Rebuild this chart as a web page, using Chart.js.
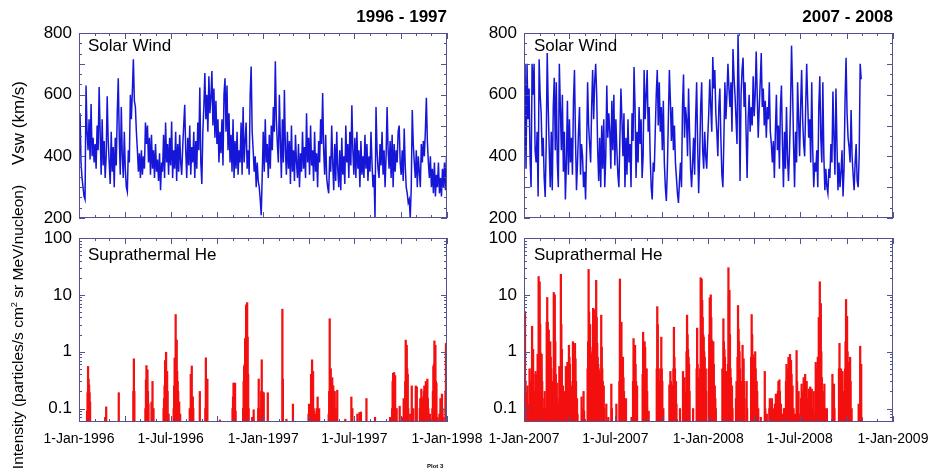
<!DOCTYPE html>
<html>
<head>
<meta charset="utf-8">
<script src="https://cdn.jsdelivr.net/npm/chart.js@4.4.1/dist/chart.umd.min.js"></script>
<style>
  html, body { margin: 0; padding: 0; background: #fff; }
  #wrap { position: relative; width: 930px; height: 474px; overflow: hidden;
          font-family: "Liberation Sans", Arial, Helvetica, sans-serif; color: #000; }
  canvas.panel { position: absolute; left: 0; top: 0; }
  .t { position: absolute; white-space: nowrap; line-height: 1; }
  .rot { transform: translate(-50%, -50%) rotate(-90deg); }
  sup { font-size: 60%; vertical-align: 0.7em; line-height: 0; }
</style>
</head>
<body>
<div id="wrap">
  <canvas id="swEarly" class="panel" width="1000" height="474"></canvas>
  <canvas id="swLate" class="panel" width="1000" height="474"></canvas>
  <canvas id="heEarly" class="panel" width="1000" height="474"></canvas>
  <canvas id="heLate" class="panel" width="1000" height="474"></canvas>

  <div class="t" style="right:483px; top:8px; font-weight:bold; font-size:17px;">1996 - 1997</div>
  <div class="t" style="right:37px; top:8px; font-weight:bold; font-size:17px;">2007 - 2008</div>
  <div class="t" style="left:88px; top:37px; font-size:17px;">Solar Wind</div>
  <div class="t" style="left:534px; top:37px; font-size:17px;">Solar Wind</div>
  <div class="t" style="left:88px; top:246px; font-size:17px;">Suprathermal He</div>
  <div class="t" style="left:534px; top:246px; font-size:17px;">Suprathermal He</div>
  <div class="t rot" style="left:18px; top:123px; font-size:17px;">Vsw (km/s)</div>
  <div class="t rot" style="left:18px; top:327px; font-size:15.5px;">Intensity (particles/s cm<sup>2</sup> sr MeV/nucleon)</div>
  <div class="t" style="left:427px; top:463px; font-size:6px; font-weight:bold;">Plot 3</div>
</div>

<script>
// ---- Solar wind speed (km/s), one sample every 2 days from 1 Jan of the first year ----
const SW_STEP_DAYS = 2;

const swSpeed1996 = [
  400, 540, 380, 330, 300, 270, 260, 630, 480, 420,
  520, 390, 570, 400, 460, 380, 440, 360, 500, 420,
  625, 480, 340, 520, 370, 450, 330, 400, 595, 450,
  380, 310, 480, 350, 430, 300, 460, 370, 540, 653,
  460, 340, 560, 400, 330, 480, 360, 300, 285, 420,
  380, 600, 520, 610, 715, 580, 560, 480, 420, 350,
  410, 330, 420, 340, 400, 360, 510, 440, 500, 380,
  460, 340, 470, 360, 420, 330, 440, 350, 390, 320,
  410, 290, 380, 350, 470, 330, 510, 380, 440, 340,
  460, 370, 513, 330, 420, 360, 480, 320, 440, 350,
  470, 380, 340, 430, 500, 567, 420, 330, 460, 370,
  500, 340, 430, 380, 480, 330, 450, 360, 510, 420,
  623, 380, 310, 480, 560, 670, 520, 600, 480, 660,
  540, 590, 677, 500, 620, 460, 580, 440, 520, 380,
  480, 410, 520, 370, 600, 653, 480, 630, 420, 540,
  380, 470, 350, 520, 330, 450, 360, 480, 340, 420,
  380, 510, 340, 560, 380, 450, 510, 360, 420, 340,
  600, 691, 480, 420, 350, 400, 300, 380, 320, 300,
  260, 209, 340, 480, 350, 520, 380, 440, 330, 470,
  360, 500, 420, 560, 480, 708, 520, 440, 380, 600,
  450, 330, 520, 380, 615, 420, 340, 480, 360, 450,
  310, 500, 350, 420, 320, 470, 380, 330, 440, 300,
  410, 350, 480, 360, 430, 330, 540, 380, 460, 340,
  500, 370, 420, 320, 480, 350, 410, 300, 450, 380,
  520, 440, 605, 420, 340, 470, 330, 300, 280, 400,
  350, 500, 380, 290, 440, 320, 480, 360, 300, 420,
  290, 460, 340, 400, 310, 500, 380, 440, 330, 480,
  370, 566, 420, 340, 460, 330, 480, 360, 420, 300,
  450, 340, 400, 330, 470, 360, 440, 320, 400, 350,
  480, 380, 300, 340, 200, 560, 420, 360, 330, 440,
  370, 480, 340, 420, 300, 400, 560, 420, 360, 450,
  330, 470, 300, 440, 350, 420, 380, 480, 500, 380,
  340, 420, 320, 490, 370, 300, 280, 250, 260, 200,
  300, 550, 440, 380, 330, 420, 300, 400, 350, 300,
  440, 380, 450, 400, 480, 590, 450, 380, 330, 400,
  300, 360, 280, 380, 270, 340, 300, 380, 280, 330,
  270, 360, 300, 380, 290, 400
];

const swSpeed2007 = [
  330, 700, 360, 700, 520, 620, 400, 300, 700, 600,
  700, 420, 380, 480, 270, 715, 600, 540, 400, 460,
  330, 268, 440, 735, 560, 420, 300, 480, 290, 560,
  655, 420, 640, 380, 300, 700, 560, 420, 600, 350,
  480, 260, 380, 580, 340, 520, 380, 460, 340, 580,
  680, 460, 290, 380, 480, 560, 340, 440, 400, 300,
  350, 260, 420, 640, 500, 440, 380, 560, 680, 520,
  640, 700, 600, 420, 320, 460, 300, 500, 360, 520,
  300, 400, 630, 460, 540, 480, 360, 580, 420, 600,
  370, 520, 420, 340, 300, 460, 620, 520, 400, 540,
  300, 460, 340, 520, 380, 440, 300, 540, 450, 690,
  560, 330, 480, 380, 560, 440, 520, 330, 400, 680,
  520, 600, 680, 480, 560, 400, 300, 260, 380, 350,
  480, 600, 680, 500, 640, 480, 560, 420, 580, 380,
  300, 255, 360, 520, 680, 580, 450, 560, 420, 500,
  380, 330, 280, 249, 320, 380, 300, 560, 665, 460,
  560, 520, 400, 620, 480, 360, 300, 380, 460, 340,
  520, 640, 440, 280, 400, 560, 640, 420, 360, 480,
  400, 360, 460, 540, 650, 560, 480, 722, 620, 680,
  540, 480, 400, 560, 620, 460, 340, 300, 460, 640,
  520, 600, 700, 620, 560, 640, 480, 748, 660, 600,
  520, 440, 795, 620, 320, 600, 680, 720, 560, 640,
  480, 330, 520, 600, 480, 560, 500, 660, 530, 600,
  740, 600, 460, 560, 640, 735, 560, 620, 500, 580,
  460, 560, 520, 640, 480, 440, 380, 450, 330, 480,
  600, 420, 500, 360, 560, 630, 440, 300, 480, 360,
  560, 400, 320, 420, 560, 759, 620, 440, 300, 480,
  380, 640, 520, 400, 560, 680, 520, 440, 400, 560,
  700, 580, 460, 520, 380, 640, 420, 300, 380, 350,
  420, 300, 560, 660, 460, 380, 640, 400, 290, 360,
  300, 280, 360, 330, 440, 380, 610, 460, 340, 620,
  440, 290, 380, 300, 350, 420, 270, 360, 580, 720,
  540, 460, 430, 380, 550, 400, 340, 290, 380, 440,
  320, 300, 400, 700, 650
];

// ---- Suprathermal He daily intensity: [day since 1 Jan of first year, particles/(s cm2 sr MeV/nucleon)] ----
const heFlux1996 = [
  [16,0.09],[17,0.19],[18,0.55],[19,0.33],[20,0.26],[21,0.19],[22,0.13],
  [52,0.07],[54,0.107],[79,0.19],
  [108,0.2],[109,0.75],[110,0.2],
  [132,0.1],[133,0.32],[134,0.57],[135,0.3],[136,0.48],[137,0.2],[138,0.12],
  [144,0.13],[146,0.3],[148,0.1],
  [168,0.1],[169,0.15],[170,0.25],[171,0.7],[172,0.5],[173,0.98],[174,0.44],[175,0.45],[176,0.2],[178,0.08],
  [188,0.1],[189,0.25],[190,0.77],[191,0.77],[192,4.5],[193,1.6],[194,1.6],[195,0.45],[196,0.3],[197,0.2],[198,0.13],[199,0.13],[201,0.08],
  [220,0.1],[222,0.4],[223,0.16],[224,0.56],[225,0.16],[226,0.16],[227,0.1],
  [240,0.2],
  [251,0.1],[252,0.78],[253,0.33],[255,0.33],
  [280,0.063],
  [305,0.1],[306,0.16],[307,0.28],[308,0.28],[310,0.28],[311,0.09],
  [326,0.1],[327,0.3],[328,0.55],[329,0.6],[330,1.7],[331,1.7],[332,6.5],[333,6.8],[334,7.3],[335,1.8],[336,0.4],[337,0.1],
  [344,0.07],[347,0.095],
  [356,0.1],[357,0.33],[358,0.1],[362,0.2],[363,0.72],[364,0.2],[365,0.19],[367,0.19],[375,0.19],
  [404,5.6],[405,0.33],[412,0.065],[425,0.12],
  [456,0.08],[457,0.12],[460,0.1],[461,0.4],[462,0.3],[463,0.72],[464,0.1],[465,0.45],[466,0.1],[467,0.09],[469,0.08],[472,0.1],[474,0.16],[477,0.1],
  [496,0.08],[497,0.2],[498,3.8],[499,0.5],[500,0.5],[501,0.3],[502,0.2],[503,0.35],[504,0.25],[505,0.25],[506,0.2],[508,0.2],[510,0.1],[513,0.21],
  [529,0.065],[541,0.16],[543,0.1],
  [553,0.08],[557,0.085],[560,0.087],[571,0.15],[588,0.07],
  [618,0.07],[621,0.07],[622,0.1],[623,0.3],[624,0.42],[625,0.2],[626,0.43],[627,0.3],[628,0.38],[629,0.1],[631,0.1],
  [637,0.11],[643,0.07],[645,0.15],[647,0.1],[648,0.3],[649,1.6],[650,1.1],[651,1.3],[652,0.5],[653,0.4],[654,0.1],
  [658,0.08],[661,0.25],[664,0.1],[669,0.25],[671,0.24],
  [677,0.1],[678,0.15],[680,0.22],[681,0.12],[682,0.15],[684,0.16],[685,0.2],[686,0.25],[687,0.12],[688,0.2],[689,0.3],[690,0.15],[692,0.33],[693,0.15],[694,0.1],[697,0.08],
  [702,0.1],[703,0.2],[704,0.55],[705,0.6],[706,1.55],[707,0.5],[708,1.3],[709,0.3],[710,0.28],[712,0.07],
  [716,0.08],[718,0.15],[719,0.1],[721,0.18],[722,0.1],[724,0.07],[728,0.2],[729,1.4],[730,0.5]
];

const heFlux2007 = [
  [1,0.12],[2,5.1],[3,0.3],[4,0.2],[5,0.09],[7,0.25],[9,0.12],[11,0.5],[13,0.3],[15,0.5],[16,2.8],[18,1.1],[19,0.4],[21,0.2],
  [23,0.45],[24,0.3],[26,0.4],[27,0.9],[28,0.6],[29,21],[30,9],[31,17],[32,3],[33,0.95],[34,0.5],[35,0.9],[36,0.3],[37,0.15],[39,0.1],
  [41,0.2],[43,0.1],[45,3.3],[46,9],[47,3.3],[48,2.4],[49,2.4],[50,1.5],[52,1.5],[53,0.8],[54,0.5],[56,0.3],[57,0.15],
  [59,11],[60,3],[61,10],[62,1.5],[63,0.4],[65,0.28],[66,0.15],[68,0.12],
  [70,0.55],[71,0.3],[73,23],[74,3],[75,1.1],[77,0.25],[79,0.2],[80,0.09],
  [83,0.55],[84,0.2],[86,0.65],[88,0.3],[89,1.3],[90,0.8],[91,0.6],[92,0.3],[94,0.25],[95,0.1],
  [97,1.5],[98,0.5],[99,0.8],[101,1.4],[102,0.75],[103,0.3],[105,0.15],[106,0.08],
  [114,0.16],[116,0.1],[118,0.2],[119,0.09],
  [126,0.5],[127,1.5],[128,28],[129,5],[130,3],[131,3],[132,1],[134,0.5],[135,0.9],[136,1.2],[137,5.8],[138,2],[139,1.5],[140,5.5],
  [141,1.2],[142,0.6],[143,18],[144,4],[145,1.4],[146,0.8],[147,0.6],[148,0.5],[149,0.45],[150,0.4],[151,0.3],
  [153,4.4],[154,1.2],[155,0.5],[156,0.3],[158,0.25],[159,0.1],[163,0.12],[167,0.07],[173,0.27],[174,0.1],[183,0.12],
  [189,0.3],[190,19],[191,3.3],[193,3.3],[194,0.8],[196,0.8],[197,0.35],[198,0.2],[202,0.15],[213,0.07],
  [216,0.3],[217,1.7],[218,0.8],[220,1.3],[221,0.6],[222,0.3],[224,0.25],
  [235,0.4],[236,2.2],[237,1.2],[239,1.5],[240,1.2],[241,0.5],[243,0.5],[244,0.2],[247,0.09],
  [263,0.5],[264,6.2],[265,3],[266,0.5],[267,0.3],[268,0.25],[270,0.5],[272,1.8],[273,0.5],[274,0.3],[276,0.1],
  [288,0.26],[290,0.45],[291,0.3],[292,0.25],[294,0.26],[296,0.5],[297,2.7],[298,0.8],[299,0.5],[301,0.3],[302,0.12],[309,0.1],
  [315,0.45],[316,0.3],[318,0.35],[320,0.2],[322,1],[323,4.4],[324,2],[325,1.1],[326,0.8],[327,0.6],[328,0.2],[335,0.1],
  [342,0.5],[343,2.6],[344,0.6],[345,0.35],[346,0.2],[348,0.1],[349,0.5],[350,20],[351,6],[352,19],[353,8],[354,4],[355,2],
  [356,1.8],[357,1],[358,0.8],[360,0.5],[361,0.2],
  [366,0.5],[367,2],[368,8.9],[369,3],[370,10],[371,4],[372,1.6],[373,0.8],[375,1.5],[376,0.6],[378,0.25],[379,0.15],[380,0.1],
  [393,0.5],[395,3.8],[396,1.5],[397,1.1],[398,0.8],[400,0.45],[401,0.1],
  [404,0.6],[405,30],[406,10],[407,12],[408,2],[409,0.5],[410,0.35],[412,0.25],[413,0.1],
  [420,0.15],[421,0.3],[423,0.8],[424,6.5],[425,2.5],[426,1.5],[427,1],[428,0.5],[430,0.3],[431,0.2],
  [433,1.3],[434,0.6],[435,0.75],[436,0.3],[437,0.15],[441,0.3],[442,0.1],
  [450,0.8],[451,4.5],[452,2],[453,0.9],[454,0.7],[456,0.8],[457,0.5],[458,1],[459,0.5],[461,0.3],[462,0.2],[464,0.1],
  [469,0.07],[477,0.45],[478,0.1],[481,0.08],
  [486,0.1],[487,0.15],[489,0.1],[491,0.15],[493,0.09],[495,0.1],[497,0.12],[499,0.18],[501,0.1],[503,0.2],[504,0.3],[506,0.32],[507,0.2],[509,0.12],[512,0.08],
  [515,0.1],[517,0.1],[519,0.3],[520,0.6],[521,0.4],[522,0.5],[524,0.8],[525,0.5],[526,0.6],[527,0.9],[528,0.7],[529,0.7],[530,0.4],[532,0.25],[534,0.1],[537,0.08],
  [540,1.05],[541,0.3],[544,0.2],[546,0.08],
  [549,0.15],[550,0.27],[552,0.2],[554,0.35],[555,0.3],[557,0.4],[558,0.3],[560,0.3],[562,0.15],[564,0.22],[565,0.1],[567,0.24],[568,0.12],[570,0.22],[572,0.1],[574,0.2],[575,0.08],
  [578,0.65],[580,0.5],[582,0.8],[583,0.7],[584,4],[585,2],[586,17],[587,7],[588,7],[589,1],[590,0.35],[592,0.2],[595,0.27],[596,0.1],[600,0.1],
  [611,0.4],[612,0.2],[614,0.27],[615,0.1],
  [624,0.5],[625,1.4],[626,0.5],[628,0.5],[630,0.3],[631,0.45],[632,0.2],
  [636,0.5],[637,1.5],[638,8.3],[639,2],[640,4.2],[641,1],[642,0.6],[643,0.4],[644,0.65],[645,0.5],[646,0.8],[647,0.3],[649,0.1],
  [663,0.12],[664,0.1],[666,1.25],[667,0.6],[668,0.6],[669,0.07]
];

// ---- Axis labelling ----
const SPAN_DAYS = 731;
const dateTickDays1996 = [0, 182, 366, 547, 731];
const dateTickLabels1996 = ['1-Jan-1996', '1-Jul-1996', '1-Jan-1997', '1-Jul-1997', '1-Jan-1998'];
const dateTickDays2007 = [0, 181, 365, 546, 731];
const dateTickLabels2007 = ['1-Jan-2007', '1-Jul-2007', '1-Jan-2008', '1-Jul-2008', '1-Jan-2009'];
const speedTicks = [200, 400, 600, 800];
const speedTickLabels = ['200', '400', '600', '800'];
const fluxTicks = [0.1, 1, 10, 100];
const fluxTickLabels = ['0.1', '1', '10', '100'];

const FONT = '"Liberation Sans", Arial, Helvetica, sans-serif';
const FRAME_COLOR = '#52528e';
const WIND_COLOR = '#1616d8';
const HE_COLOR = '#f41010';
const CANVAS_W = 1000, CANVAS_H = 474;

// month starts (minor) and quarter starts (major) for the frame ticks
function monthTicks(year) {
  const t0 = Date.UTC(year, 0, 1), out = [];
  for (let m = 0; m <= 24; m++) {
    out.push({ v: (Date.UTC(year, m, 1) - t0) / 864e5, major: m % 3 === 0 });
  }
  return out;
}
function speedFrameTicks() {
  const out = [];
  for (let k = 0; k <= 18; k++) out.push({ v: 200 + k * 100 / 3, major: k % 3 === 0 });
  return out;
}
function fluxFrameTicks() {
  const out = [];
  for (let e = -2; e <= 2; e++) {
    for (let m = 1; m <= 9; m++) {
      const v = m * Math.pow(10, e);
      if (v >= 0.058 && v <= 100.0001) out.push({ v, major: m === 1 });
    }
  }
  return out;
}

// box with inward ticks on all four sides
const framePlugin = {
  id: 'frame',
  afterDatasetsDraw(chart, args, opts) {
    const { ctx, chartArea: a } = chart;
    const xs = chart.scales.x, ys = chart.scales.y;
    ctx.save();
    ctx.strokeStyle = FRAME_COLOR;
    ctx.lineWidth = 1;
    ctx.beginPath();
    for (const t of opts.xTicks) {
      const px = Math.round(xs.getPixelForValue(t.v)) + 0.5;
      const len = t.major ? 6 : 3;
      ctx.moveTo(px, a.top); ctx.lineTo(px, a.top + len);
      ctx.moveTo(px, a.bottom); ctx.lineTo(px, a.bottom - len);
    }
    for (const t of opts.yTicks) {
      const py = Math.round(ys.getPixelForValue(t.v)) + 0.5;
      const len = t.major ? 6 : 3;
      ctx.moveTo(a.left, py); ctx.lineTo(a.left + len, py);
      ctx.moveTo(a.right, py); ctx.lineTo(a.right - len, py);
    }
    ctx.stroke();
    ctx.strokeRect(Math.round(a.left) + 0.5, Math.round(a.top) + 0.5,
                   Math.round(a.right - a.left) - 1, Math.round(a.bottom - a.top) - 1);
    ctx.restore();
  }
};

const Y_AXIS_W = 70;
const X_AXIS_H = 30;

function makePanel(id, rect, p) {
  const xh = p.dateLabels ? X_AXIS_H : 0;
  return new Chart(document.getElementById(id), {
    type: p.type,
    data: { datasets: [p.dataset] },
    options: {
      responsive: false,
      animation: false,
      devicePixelRatio: 1,
      events: [],
      layout: { padding: { left: rect.l - Y_AXIS_W, right: CANVAS_W - rect.r, top: rect.t, bottom: CANVAS_H - rect.b - xh } },
      plugins: {
        legend: { display: false },
        tooltip: { enabled: false },
        frame: { xTicks: p.xFrame, yTicks: p.yFrame }
      },
      scales: {
        x: {
          type: 'linear', min: 0, max: SPAN_DAYS, offset: false,
          grid: { display: false, drawTicks: false, tickLength: 0 }, border: { display: false },
          afterFit(s) { s.height = xh; },
          afterBuildTicks(s) { s.ticks = p.dateDays.map(v => ({ value: v })); },
          ticks: {
            display: !!p.dateLabels, autoSkip: false, maxRotation: 0, padding: 9,
            color: '#000', font: { family: FONT, size: 14 },
            callback: (v, i) => p.dateLabels ? p.dateLabels[i] : ''
          }
        },
        y: {
          type: p.yType, min: p.yMin, max: p.yMax,
          grid: { display: false, drawTicks: false, tickLength: 0 }, border: { display: false },
          afterFit(s) { s.width = Y_AXIS_W; },
          afterBuildTicks(s) { s.ticks = p.yTickVals.map(v => ({ value: v })); },
          ticks: {
            autoSkip: false, padding: 7, color: '#000', font: { family: FONT, size: 17 },
            callback: (v, i) => p.yTickLabels[i]
          }
        }
      }
    },
    plugins: [framePlugin]
  });
}

function windDataset(values) {
  return {
    data: values.map((v, i) => ({ x: i * SW_STEP_DAYS, y: v })),
    borderColor: WIND_COLOR, borderWidth: 1.5, pointRadius: 0, tension: 0, fill: false
  };
}
function heDataset(pairs) {
  return {
    data: pairs.map(p => ({ x: p[0], y: p[1] })),
    backgroundColor: HE_COLOR, borderWidth: 0, barThickness: 1.6
  };
}

const rects = {
  swEarly: { l: 79, r: 447, t: 33, b: 218 },
  swLate:  { l: 524, r: 893, t: 33, b: 218 },
  heEarly: { l: 79, r: 447, t: 238, b: 422 },
  heLate:  { l: 524, r: 893, t: 238, b: 422 }
};

const windCommon = { type: 'line', yType: 'linear', yMin: 200, yMax: 800,
  yTickVals: speedTicks, yTickLabels: speedTickLabels, yFrame: speedFrameTicks() };
const heCommon = { type: 'bar', yType: 'logarithmic', yMin: 0.058, yMax: 100,
  yTickVals: fluxTicks, yTickLabels: fluxTickLabels, yFrame: fluxFrameTicks() };

makePanel('swEarly', rects.swEarly, Object.assign({}, windCommon, {
  dataset: windDataset(swSpeed1996), dateDays: dateTickDays1996, dateLabels: null, xFrame: monthTicks(1996) }));
makePanel('swLate', rects.swLate, Object.assign({}, windCommon, {
  dataset: windDataset(swSpeed2007), dateDays: dateTickDays2007, dateLabels: null, xFrame: monthTicks(2007) }));
makePanel('heEarly', rects.heEarly, Object.assign({}, heCommon, {
  dataset: heDataset(heFlux1996), dateDays: dateTickDays1996, dateLabels: dateTickLabels1996, xFrame: monthTicks(1996) }));
makePanel('heLate', rects.heLate, Object.assign({}, heCommon, {
  dataset: heDataset(heFlux2007), dateDays: dateTickDays2007, dateLabels: dateTickLabels2007, xFrame: monthTicks(2007) }));
</script>
</body>
</html>
